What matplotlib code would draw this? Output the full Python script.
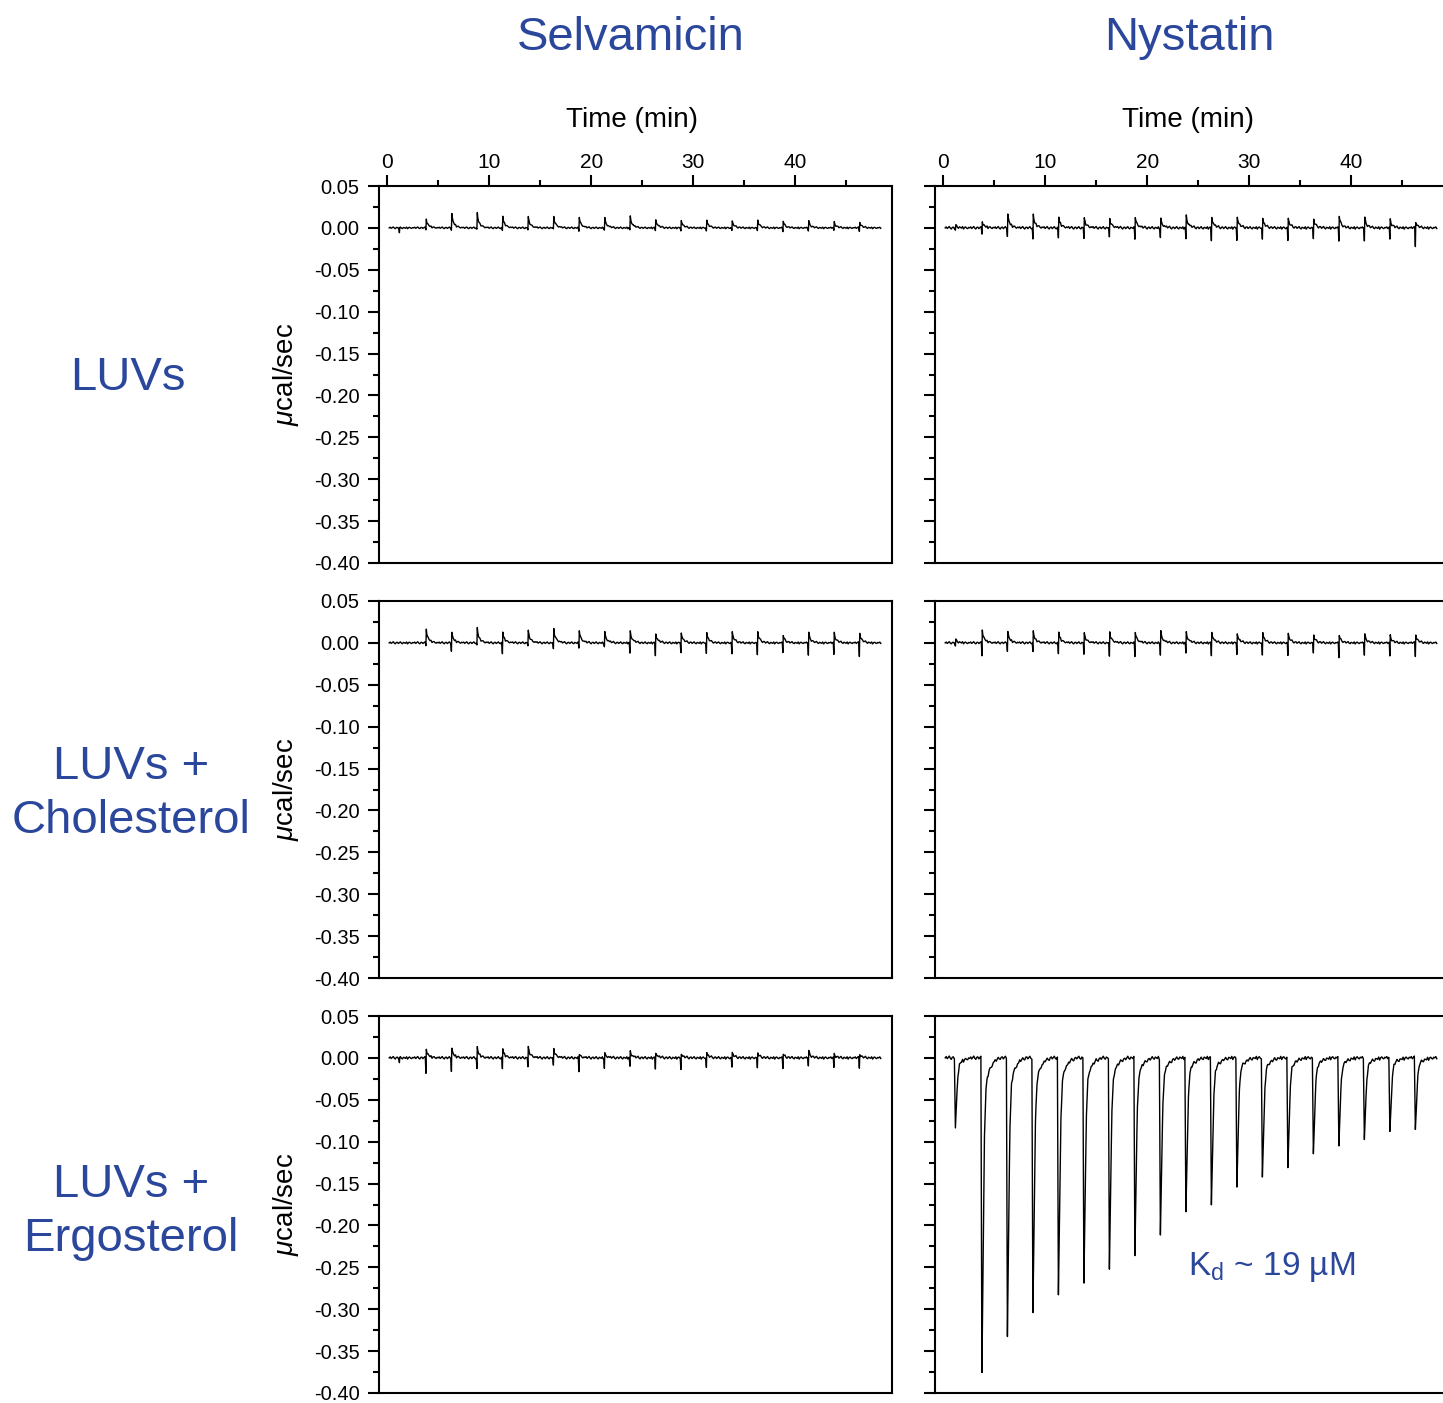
import numpy as np
import matplotlib
matplotlib.use("Agg")
import matplotlib.pyplot as plt
from matplotlib.ticker import MultipleLocator, NullLocator

plt.rcParams["font.family"] = ["Liberation Sans", "DejaVu Sans"]
plt.rcParams["mathtext.fontset"] = "custom"
plt.rcParams["mathtext.rm"] = "Liberation Sans"
plt.rcParams["mathtext.it"] = "Liberation Sans:italic"
plt.rcParams["axes.unicode_minus"] = False

BLUE = "#2B479C"

# -------------------------
# Data
# -------------------------
col_titles = ["Selvamicin", "Nystatin"]
row_titles = ["LUVs", "LUVs +\nCholesterol", "LUVs +\nErgosterol"]

# injection times (min)
inj_times = [1.2, 3.8, 6.3, 8.8, 11.3, 13.8, 16.3, 18.8, 21.3, 23.8,
             26.3, 28.8, 31.3, 33.8, 36.3, 38.8, 41.3, 43.8, 46.3]

# upward / downward spike heights (ucal/sec) per injection
selv_luv_up = [0.0, 0.011, 0.0175, 0.018, 0.014, 0.0135, 0.0135, 0.013, 0.012, 0.014,
               0.010, 0.009, 0.009, 0.008, 0.009, 0.008, 0.008, 0.007, 0.007]
selv_luv_down = [-0.006, -0.002, -0.002, -0.002, -0.003, -0.002, -0.002, -0.003, -0.003, -0.003,
                 -0.003, -0.003, -0.004, -0.003, -0.004, -0.004, -0.004, -0.004, -0.004]

nys_luv_up = [0.003, 0.008, 0.017, 0.016, 0.013, 0.012, 0.011, 0.013, 0.011, 0.015,
              0.013, 0.013, 0.011, 0.011, 0.010, 0.014, 0.012, 0.010, 0.007]
nys_luv_down = [-0.003, -0.007, -0.009, -0.014, -0.012, -0.012, -0.012, -0.012, -0.012, -0.014,
                -0.015, -0.014, -0.014, -0.015, -0.014, -0.015, -0.016, -0.015, -0.022]

selv_chol_up = [0.0, 0.017, 0.013, 0.018, 0.013, 0.015, 0.017, 0.015, 0.013, 0.014,
                0.011, 0.012, 0.012, 0.013, 0.013, 0.009, 0.012, 0.012, 0.012]
selv_chol_down = [0.0, -0.003, -0.009, -0.003, -0.013, -0.003, -0.008, -0.005, -0.005, -0.013,
                  -0.015, -0.011, -0.013, -0.013, -0.015, -0.011, -0.015, -0.015, -0.016]

nys_chol_up = [0.004, 0.016, 0.014, 0.014, 0.013, 0.012, 0.013, 0.013, 0.014, 0.013,
               0.013, 0.011, 0.012, 0.011, 0.009, 0.009, 0.010, 0.009, 0.010]
nys_chol_down = [-0.004, -0.015, -0.009, -0.011, -0.013, -0.013, -0.017, -0.015, -0.015, -0.013,
                 -0.015, -0.013, -0.015, -0.015, -0.013, -0.017, -0.015, -0.017, -0.016]

selv_erg_up = [0.0, 0.011, 0.012, 0.013, 0.011, 0.0135, 0.011, 0.0045, 0.0055, 0.008,
               0.006, 0.0045, 0.006, 0.006, 0.0055, 0.0045, 0.008, 0.0045, 0.0045]
selv_erg_down = [-0.006, -0.018, -0.015, -0.0135, -0.013, -0.010, -0.010, -0.015, -0.013, -0.011,
                 -0.013, -0.013, -0.012, -0.011, -0.013, -0.012, -0.010, -0.013, -0.012]

nys_erg_dips = [-0.084, -0.375, -0.331, -0.305, -0.283, -0.268, -0.254, -0.234, -0.212, -0.185,
                -0.175, -0.153, -0.143, -0.131, -0.116, -0.104, -0.098, -0.090, -0.085]

# baseline wiggle (x 0.001), one value every 0.1 min
wiggle = [0.0, 0.8, -0.5, 0.3, 1.1, -0.2, -0.9, 0.4, 0.6, -0.6, 0.2, 1.0,
          -0.3, -0.8, 0.5, 0.1, -0.4, 0.9, -1.0, 0.3, 0.7, -0.2, -0.6, 0.4]

# spike shape: time offsets (min) and weights
spike_dt = [-0.06, 0.0, 0.04, 0.08, 0.16, 0.3, 0.5, 0.8, 1.2]
spike_down_w = [0, 1.0, 0, 0, 0, 0, 0, 0, 0]
spike_up_w = [0, 0, 1.0, 0.7, 0.45, 0.25, 0.12, 0.04, 0]

# big exothermic dip shape (Nystatin + ergosterol)
dip_dt = [-0.1, 0.0, 0.08, 0.16, 0.25, 0.39, 0.55, 0.72, 1.2, 1.8]
dip_w = [0, 1.0, 0.75, 0.48, 0.25, 0.10, 0.06, 0.04, 0.012, 0]

t_start, t_end = 0.2, 48.5


def build_trace(noise_scale, ups=None, downs=None, dips=None):
    t = np.arange(t_start, t_end, 0.1)
    extra = []
    for tk in inj_times:
        extra.extend(tk + np.array(spike_dt if dips is None else dip_dt))
    t = np.unique(np.concatenate([t, np.array(extra)]))
    base_t = np.arange(t_start, t_end + 0.1, 0.1)
    noise = np.resize(np.array(wiggle) * 0.001 * noise_scale, len(base_t))
    y = np.interp(t, base_t, noise)
    for k, tk in enumerate(inj_times):
        if dips is None:
            y += downs[k] * np.interp(t - tk, spike_dt, spike_down_w, left=0, right=0)
            y += ups[k] * np.interp(t - tk, spike_dt, spike_up_w, left=0, right=0)
        else:
            y += dips[k] * np.interp(t - tk, dip_dt, dip_w, left=0, right=0)
    return t, y


traces = [
    [build_trace(1.0, selv_luv_up, selv_luv_down), build_trace(1.5, nys_luv_up, nys_luv_down)],
    [build_trace(1.2, selv_chol_up, selv_chol_down), build_trace(1.3, nys_chol_up, nys_chol_down)],
    [build_trace(1.5, selv_erg_up, selv_erg_down), build_trace(2.0, dips=nys_erg_dips)],
]

# -------------------------
# Figure
# -------------------------
W, H = 1443, 1403
fig = plt.figure(figsize=(W / 100, H / 100), dpi=100)

col_left = [379, 935]
row_top = [186, 601, 1016]
ax_w, ax_h = 513, 377

yticks = [0.05, 0.00, -0.05, -0.10, -0.15, -0.20, -0.25, -0.30, -0.35, -0.40]

for r in range(3):
    for c in range(2):
        ax = fig.add_axes([col_left[c] / W, 1 - (row_top[r] + ax_h) / H, ax_w / W, ax_h / H])
        t, y = traces[r][c]
        ax.plot(t, y, color="black", lw=1.0)
        ax.set_xlim(-0.8, 49.5)
        ax.set_ylim(-0.40, 0.05)

        for s in ax.spines.values():
            s.set_linewidth(1.5)

        ax.set_yticks(yticks)
        ax.yaxis.set_minor_locator(MultipleLocator(0.025))
        ax.tick_params(axis="y", which="major", direction="out", length=8, width=1.5,
                       labelsize=14.5, pad=6)
        ax.tick_params(axis="y", which="minor", direction="out", length=4, width=1.5)
        if c == 0:
            ax.set_yticklabels([f"{v:.2f}" for v in yticks])
            ax.set_ylabel(r"$\mu$cal/sec", fontsize=20)
            ax.yaxis.set_label_coords(-0.152, 0.5)
        else:
            ax.set_yticklabels([])

        if r == 0:
            ax.xaxis.tick_top()
            ax.set_xticks([0, 10, 20, 30, 40])
            ax.xaxis.set_minor_locator(MultipleLocator(5))
            ax.tick_params(axis="x", which="major", direction="out", length=8, width=1.5,
                           labelsize=15, pad=2, bottom=False, top=True)
            ax.tick_params(axis="x", which="minor", direction="out", length=4, width=1.5,
                           bottom=False, top=True)
            ax.set_xlabel("Time (min)", fontsize=20)
            ax.xaxis.set_label_position("top")
            ax.xaxis.set_label_coords(0.493, 1.176)
            ax.xaxis.label.set_verticalalignment("center")
        else:
            ax.xaxis.set_major_locator(NullLocator())
            ax.xaxis.set_minor_locator(NullLocator())

        if r == 2 and c == 1:
            ax.text(24.0, -0.25, r"K$_{\rm d}$ ~ 19 µM", color=BLUE, fontsize=24,
                    ha="left", va="center")

# column titles
for c, title in enumerate(col_titles):
    cx = [631, 1189][c]
    fig.text(cx / W, 1 - 38 / H, title, color=BLUE, fontsize=34, ha="center", va="center")

# row titles
for r, title in enumerate(row_titles):
    cx, cy = [(128, 378), (131, 794), (131, 1212)][r]
    fig.text(cx / W, 1 - cy / H, title, color=BLUE, fontsize=34, ha="center", va="center",
             multialignment="center", linespacing=1.3)

fig.savefig("out.png", dpi=100)
